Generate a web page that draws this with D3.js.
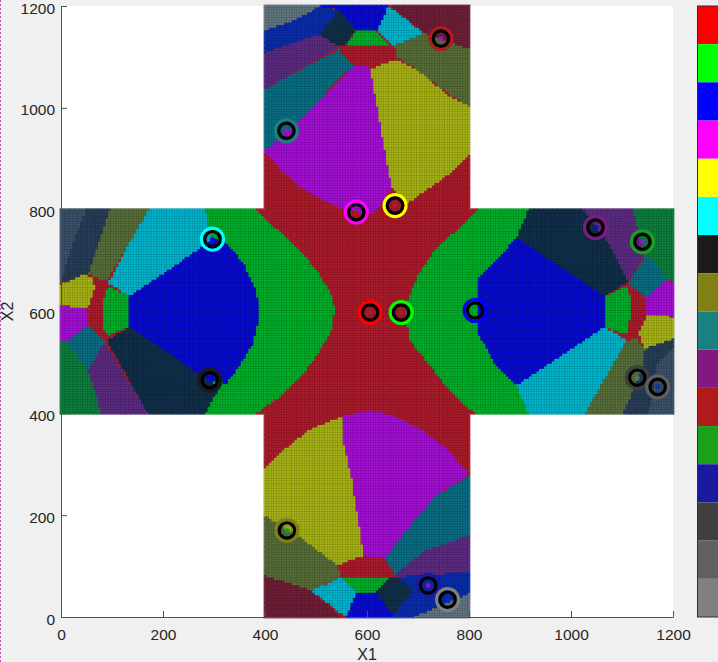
<!DOCTYPE html>
<html>
<head>
<meta charset="utf-8">
<script src="https://cdn.jsdelivr.net/npm/d3@7"></script>
<style>
    html, body { margin: 0; padding: 0; background: #f0f0f0; }
    svg { display: block; }
    text { font-family: "Liberation Sans", Arial, sans-serif; fill: #262626; }
</style>
</head>
<body>
<div id="chart"></div>
<script>
// Tick labels and colourbar entries
const xTicks = [0, 200, 400, 600, 800, 1000, 1200];
const yTicks = [0, 200, 400, 600, 800, 1000, 1200];
const legendColors = ["#ff0000", "#00ff00", "#0000ff", "#ff00ff", "#ffff00", "#00ffff", "#1a1a1a", "#808015",
    "#1a8080", "#801a80", "#b01a1a", "#1aa01a", "#1a1aa0", "#404040", "#606060", "#808080"];

// Grid of the map, in X1/X2 units
const gridStep = 5;

// Region fill colours
const RED = "#ac1c2c", GREEN = "#00ae2a", BLUE = "#0a0cd0", PURPLE = "#a410d4", YELLOW = "#a6b216",
    CYAN = "#00b4cc", DARKNAVY = "#12304a", OLIVE = "#586e3a", TEAL = "#0a6e84", DARKPURPLE = "#5c2c82",
    MAROON = "#702038", DARKGREEN = "#0e7e3e", NAVY = "#0a2eac", SLATE = "#3c526a", DARKSLATE = "#283e5a",
    GREYSLATE = "#627682";

// Ringed prototypes: X1, X2, index into legendColors, colour of the small centre dot
const protoX = [606, 667, 812, 579, 655, 297, 292, 443, 442, 1048, 745, 1140, 720, 1130, 1170, 758];
const protoY = [598, 598, 602, 795, 808, 742, 465, 170, 955, 765, 1136, 737, 62, 470, 452, 34];
const protoColor = [0, 1, 2, 3, 4, 5, 6, 7, 8, 9, 10, 11, 12, 13, 14, 15];
const protoDot = [RED, RED, GREEN, RED, RED, BLUE, BLUE, GREEN, PURPLE, BLUE, PURPLE, PURPLE, PURPLE, GREYSLATE, NAVY, NAVY];

// Region outlines. Later ones sit on top of earlier ones.
const baseRegions = [
    [[400, 0], [800, 0], [800, 400], [1200, 400], [1200, 800], [800, 800], [800, 1200], [400, 1200], [400, 800], [0, 800], [0, 400], [400, 400]],
    [[283, 800], [384, 800], [425, 760], [469, 721], [508, 672], [531, 633], [537, 603], [531, 564], [504, 515], [469, 470], [425, 430], [384, 400], [283, 400]],
    [[916, 800], [816, 800], [776, 760], [733, 721], [700, 672], [680, 623], [675, 597], [684, 544], [714, 505], [753, 456], [786, 420], [812, 400], [916, 400]]
];
const baseColors = [RED, GREEN, GREEN];

const topRegions = [
    [[400, 1200], [510, 1200], [504, 1194], [453, 1169], [400, 1151]],
    [[400, 1151], [453, 1169], [510, 1200], [546, 1192], [507, 1144], [400, 1108]],
    [[546, 1192], [581, 1158], [558, 1122], [544, 1120], [507, 1144]],
    [[513, 1200], [642, 1200], [619, 1150], [579, 1151], [546, 1192]],
    [[642, 1200], [712, 1146], [651, 1122], [619, 1150]],
    [[645, 1200], [800, 1200], [800, 1115], [712, 1146]],
    [[712, 1146], [800, 1115], [800, 1002], [760, 1027], [696, 1076], [658, 1099], [651, 1122]],
    [[606, 1076], [658, 1095], [696, 1076], [760, 1023], [800, 1002], [800, 905], [760, 869], [677, 810], [648, 843], [638, 896], [622, 987], [612, 1040]],
    [[579, 1151], [619, 1150], [648, 1120], [558, 1120]],
    [[546, 1120], [654, 1118], [658, 1095], [606, 1079], [581, 1080], [558, 1099]],
    [[400, 1108], [507, 1144], [544, 1118], [400, 1036]],
    [[400, 1036], [546, 1115], [562, 1095], [574, 1082], [542, 1053], [469, 974], [400, 915]],
    [[400, 915], [469, 974], [574, 1082], [606, 1079], [612, 1040], [622, 987], [638, 896], [648, 843], [613, 791], [562, 797], [517, 817], [472, 843], [433, 876]]
];
const topColors = [GREYSLATE, NAVY, DARKNAVY, BLUE, CYAN, MAROON, OLIVE, YELLOW, GREEN, RED, DARKPURPLE, TEAL, PURPLE];

const bottomRegions = [
    [[400, 292], [440, 331], [485, 367], [552, 395], [555, 341], [571, 269], [594, 138], [594, 121], [542, 102], [478, 151], [400, 200]],
    [[552, 395], [606, 406], [651, 397], [709, 367], [760, 328], [800, 279], [735, 239], [677, 171], [635, 115], [594, 121], [571, 269], [555, 341]],
    [[800, 277], [800, 161], [715, 131], [654, 85], [635, 115], [677, 171], [735, 239]],
    [[654, 85], [715, 131], [800, 161], [800, 89], [658, 79]],
    [[658, 79], [800, 89], [800, 47], [690, 0], [648, 0], [690, 53]],
    [[800, 47], [800, 0], [690, 0]],
    [[642, 77], [658, 79], [690, 53], [651, 4], [618, 49]],
    [[581, 47], [618, 49], [651, 4], [648, 0], [558, 0]],
    [[550, 77], [642, 77], [618, 49], [581, 47]],
    [[549, 77], [581, 47], [558, 0], [491, 53]],
    [[542, 102], [594, 121], [635, 115], [654, 82], [550, 79]],
    [[400, 200], [478, 151], [542, 102], [550, 79], [491, 53], [400, 82]],
    [[400, 82], [491, 53], [549, 0], [400, 0]]
];
const bottomColors = [YELLOW, PURPLE, TEAL, DARKPURPLE, NAVY, GREYSLATE, DARKNAVY, BLUE, GREEN, CYAN, RED, OLIVE, MAROON];

const leftRegions = [
    [[0, 800], [50, 800], [24, 734], [0, 655]],
    [[50, 800], [96, 800], [54, 675], [0, 655], [24, 734]],
    [[96, 800], [173, 800], [142, 747], [90, 659], [63, 668], [54, 675]],
    [[173, 800], [283, 800], [297, 742], [269, 721], [207, 678], [135, 630], [93, 655], [142, 747]],
    [[135, 630], [207, 678], [269, 721], [297, 742], [325, 734], [358, 695], [380, 649], [390, 609], [387, 577], [377, 537], [345, 485], [325, 459], [292, 465], [260, 485], [194, 531], [135, 570]],
    [[90, 544], [135, 570], [194, 531], [260, 485], [292, 465], [312, 452], [283, 400], [171, 400]],
    [[86, 541], [171, 400], [80, 400], [54, 485]],
    [[0, 544], [11, 541], [54, 485], [80, 400], [0, 400]],
    [[11, 541], [54, 573], [86, 541], [54, 485]],
    [[0, 611], [54, 604], [54, 573], [11, 541], [0, 544]],
    [[0, 652], [44, 672], [63, 665], [67, 645], [54, 606], [0, 611]],
    [[67, 645], [90, 655], [83, 622], [83, 567], [93, 547], [86, 541], [54, 573], [54, 606]],
    [[93, 650], [135, 630], [135, 570], [93, 554], [83, 567], [83, 622]]
];
const leftColors = [SLATE, DARKSLATE, OLIVE, CYAN, BLUE, DARKNAVY, DARKPURPLE, DARKGREEN, TEAL, PURPLE, YELLOW, RED, GREEN];

const rightRegions = [
    [[893, 744], [1066, 629], [1066, 570], [893, 455], [854, 491], [815, 563], [815, 662], [828, 675]],
    [[916, 800], [1024, 800], [1073, 734], [1112, 659], [1066, 629], [893, 744]],
    [[1024, 800], [1122, 800], [1142, 708], [1112, 659], [1073, 734]],
    [[1122, 800], [1200, 800], [1200, 659], [1188, 662], [1155, 708], [1142, 708]],
    [[1145, 708], [1155, 708], [1188, 662], [1145, 626], [1112, 655]],
    [[1188, 662], [1200, 655], [1200, 590], [1148, 593], [1145, 626]],
    [[1148, 593], [1200, 590], [1200, 547], [1145, 528], [1132, 557]],
    [[1109, 655], [1145, 626], [1148, 593], [1132, 557], [1119, 544], [1109, 554], [1116, 590], [1116, 629]],
    [[1109, 649], [1116, 629], [1116, 590], [1109, 554], [1066, 570], [1066, 629]],
    [[1066, 570], [1109, 544], [1066, 459], [1027, 400], [916, 400], [893, 455]],
    [[1109, 544], [1129, 547], [1145, 528], [1138, 485], [1102, 400], [1027, 400]],
    [[1145, 528], [1200, 547], [1200, 531], [1168, 498], [1152, 400], [1102, 400], [1138, 485]],
    [[1200, 531], [1200, 400], [1152, 400], [1168, 498]]
];
const rightColors = [BLUE, DARKNAVY, DARKPURPLE, DARKGREEN, TEAL, PURPLE, YELLOW, RED, GREEN, CYAN, OLIVE, DARKSLATE, SLATE];

// Define the size of the chart
const width = 718, height = 662;
const margin = { top: 6, right: 45, bottom: 45, left: 61 };

const svg = d3.select("#chart").append("svg")
    .attr("width", width)
    .attr("height", height);

svg.append("rect")
    .attr("width", width).attr("height", height)
    .attr("fill", "#f0f0f0");

// the dotted stripe down the left edge of the screenshot
svg.append("line")
    .attr("x1", 0.5).attr("x2", 0.5)
    .attr("y1", 0).attr("y2", height)
    .attr("stroke", "#c050c8")
    .attr("stroke-dasharray", "2,2");

const xScale = d3.scaleLinear().domain([0, 1200]).range([margin.left, width - margin.right]);
const yScale = d3.scaleLinear().domain([0, 1200]).range([height - margin.bottom, margin.top]);

svg.append("rect")
    .attr("x", margin.left).attr("y", margin.top)
    .attr("width", xScale(1200) - xScale(0))
    .attr("height", yScale(0) - yScale(1200))
    .attr("fill", "white");

// Colour of a grid point: the topmost region that holds it
const regions = baseRegions.concat(topRegions, bottomRegions, leftRegions, rightRegions);
const regionColors = baseColors.concat(topColors, bottomColors, leftColors, rightColors);

function inCross(x, y) {
    return (x >= 400 && x <= 800) || (y >= 400 && y <= 800);
}

function colorAt(x, y) {
    // nudge inwards so points on the outer edge are not missed
    const p = [x < 600 ? x + 0.5 : x - 0.5, y < 600 ? y + 0.5 : y - 0.5];
    for (let i = regions.length - 1; i >= 0; i--) {
        if (d3.polygonContains(regions[i], p)) return regionColors[i];
    }
    return RED;
}

const gridPoints = [];
d3.range(0, 1200 + gridStep, gridStep).forEach(x => {
    d3.range(0, 1200 + gridStep, gridStep).forEach(y => {
        if (inCross(x, y)) gridPoints.push({ x: x, y: y, color: colorAt(x, y) });
    });
});

// Solid underlay so white does not bleed through the antialiased cell edges
const regionLine = d3.line().x(d => xScale(d[0])).y(d => yScale(d[1]));
svg.append("g")
    .attr("class", "underlay")
    .selectAll("path")
    .data(regions)
    .join("path")
    .attr("d", d => regionLine(d) + "Z")
    .attr("fill", (d, i) => regionColors[i]);

const cellW = xScale(gridStep) - xScale(0);
const cellH = yScale(0) - yScale(gridStep);

svg.append("g")
    .attr("class", "cells")
    .selectAll("rect")
    .data(gridPoints)
    .join("rect")
    .attr("x", d => xScale(d.x) - cellW / 2)
    .attr("y", d => yScale(d.y) - cellH / 2)
    .attr("width", cellW)
    .attr("height", cellH)
    .attr("fill", d => d.color)
    .attr("stroke", "rgba(0,0,0,0.15)")
    .attr("stroke-width", 0.5);

// Axes, MATLAB style with ticks pointing in and no box
const xAxis = d3.axisBottom(xScale)
    .tickValues(xTicks).tickFormat(d3.format("d"))
    .tickSizeInner(-6).tickSizeOuter(0).tickPadding(12);
const yAxis = d3.axisLeft(yScale)
    .tickValues(yTicks).tickFormat(d3.format("d"))
    .tickSizeInner(-6).tickSizeOuter(0).tickPadding(6);

const xAxisGroup = svg.append("g")
    .attr("transform", `translate(0, ${yScale(0)})`)
    .call(xAxis);
const yAxisGroup = svg.append("g")
    .attr("transform", `translate(${margin.left}, 0)`)
    .call(yAxis);

[xAxisGroup, yAxisGroup].forEach(g => {
    g.selectAll("path, line").attr("stroke", "#505050");
    g.selectAll("text").style("font-size", "15.5px").attr("fill", "#262626");
});
yAxisGroup.selectAll("text").attr("dy", "0.46em");

svg.append("text")
    .attr("x", xScale(600)).attr("y", 660)
    .attr("text-anchor", "middle")
    .style("font-size", "16px")
    .text("X1");

svg.append("text")
    .attr("transform", `translate(13, ${yScale(600)}) rotate(-90)`)
    .attr("text-anchor", "middle")
    .style("font-size", "16px")
    .text("X2");

// Prototype rings
const protos = svg.append("g")
    .attr("class", "protos")
    .selectAll("g")
    .data(protoX.map((x, i) => ({ x: x, y: protoY[i], color: legendColors[protoColor[i]], dot: protoDot[i] })))
    .join("g")
    .attr("transform", d => `translate(${xScale(d.x)}, ${yScale(d.y)})`);

protos.append("circle")
    .attr("r", 11)
    .attr("fill", "none")
    .attr("stroke", d => d.color)
    .attr("stroke-width", 3.2);

protos.append("circle")
    .attr("r", 7.7)
    .attr("fill", "none")
    .attr("stroke", "black")
    .attr("stroke-width", 3.2);

protos.append("circle")
    .attr("r", 2.5)
    .attr("fill", d => d.dot)
    .attr("opacity", 0.8);

// Colourbar
const barScale = d3.scaleBand()
    .domain(d3.range(legendColors.length))
    .range([margin.top, yScale(0)]);

svg.append("g")
    .attr("class", "colorbar")
    .selectAll("rect")
    .data(legendColors)
    .join("rect")
    .attr("x", 697)
    .attr("y", (d, i) => barScale(i))
    .attr("width", 21)
    .attr("height", barScale.bandwidth())
    .attr("fill", d => d);

svg.append("rect")
    .attr("x", 697.5).attr("y", margin.top)
    .attr("width", 21)
    .attr("height", yScale(0) - margin.top)
    .attr("fill", "none")
    .attr("stroke", "#303030");
</script>
</body>
</html>
